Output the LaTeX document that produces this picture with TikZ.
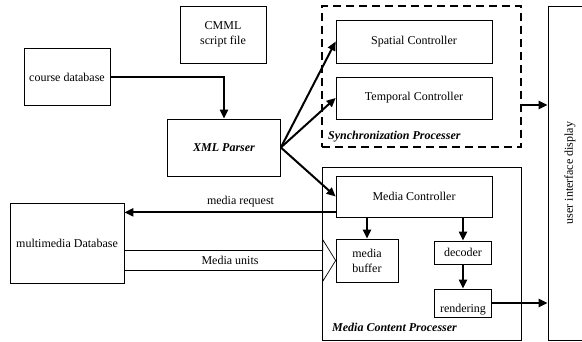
\documentclass[tikz,border=0pt]{standalone}
\usepackage{fontspec}
\setmainfont{Liberation Serif}
\usetikzlibrary{arrows.meta,calc}

\begin{document}
\begin{tikzpicture}[x=1pt,y=-1pt,
    box/.style={rectangle, draw=black, line width=0.7pt, align=center,
                inner sep=0pt, font=\fontsize{12}{15}\selectfont},
    procbox/.style={rectangle, draw=black, line width=0.7pt, inner sep=0pt},
    title/.style={anchor=west, inner sep=0pt, font=\fontsize{12}{15}\selectfont\bfseries\itshape},
    arr/.style={-{Triangle[length=9pt,width=8pt]}, line width=2pt, black},
    hollow/.style={line width=0.7pt, black}
  ]
    \useasboundingbox (0,0) rectangle (582,341);

    % processers
    \node[procbox, dash pattern=on 8pt off 5pt, line width=1.1pt,
          minimum width=199pt, minimum height=141pt] (sync) at (421.5,76.5) {};
    \node[title] (synct) at (328,137) {Synchronization Processer};
    \node[procbox, minimum width=199pt, minimum height=173pt] (mcp) at (421.5,253.5) {};
    \node[title] (mcpt) at (332,327) {Media Content Processer};

    \node[box, minimum width=86pt, minimum height=57pt] (cmml) at (223,34.5) {CMML\\script file};
    \node[box, minimum width=86pt, minimum height=57pt] (course) at (67,77) {course database};
    \node[box, minimum width=113pt, minimum height=57pt, font=\fontsize{12}{15}\selectfont\bfseries\itshape] (xml) at (224,147.5) {XML Parser};
    \node[box, minimum width=114pt, minimum height=80pt] (mmdb) at (67,243) {multimedia Database};

    \node[box, minimum width=156pt, minimum height=43pt] (spatial) at (414,41.5) {Spatial Controller};
    \node[box, minimum width=156pt, minimum height=42pt] (temporal) at (414,98) {Temporal Controller};
    \node[box, minimum width=156pt, minimum height=41pt] (mc) at (414,196.5) {Media Controller};
    \node[box, minimum width=62pt, minimum height=43pt] (buffer) at (367,260.5) {media\\buffer};
    \node[box, minimum width=57pt, minimum height=23pt] (decoder) at (463,252.5) {decoder};
    \node[box, minimum width=57pt, minimum height=28pt] (rendering) at (463,303) {\raisebox{-7pt}[\height][\depth]{rendering}};

    \node[box, minimum width=44pt, minimum height=334pt] (ui) at (570,173) {};
    \node[rotate=90, inner sep=0pt, font=\fontsize{12}{15}\selectfont] (uit) at (ui.center) {user interface display};

    \draw[arr] (course.east) -| (xml.north);
    \draw[arr] (xml.east) -- (spatial.west);
    \draw[arr] (xml.east) -- (temporal.west);
    \draw[arr] (xml.east) -- (mc.west);

    \coordinate (syncout) at ([yshift=-28.5pt]sync.east);
    \draw[arr] (syncout) -- (syncout -| ui.west);

    \draw[arr] (buffer.north |- mc.south) -- (buffer.north);
    \draw[arr] (decoder.north |- mc.south) -- (decoder.north);
    \draw[arr] (decoder.south) -- (rendering.north);
    \draw[arr] (rendering.east) -- (rendering.east -| ui.west);

    \coordinate (req) at ([yshift=5pt]mc.south west);
    \draw[arr] (req) -- (req -| mmdb.east)
      node[pos=0.45, above=1pt, font=\fontsize{12}{15}\selectfont] {media request};

    \coordinate (mu) at (mmdb.east |- buffer.west);
    \draw[hollow] ($(mu)+(0,-10)$) -- ($(buffer.west)+(-13,-10)$) -- ($(buffer.west)+(-13,-21)$)
      -- (buffer.west) -- ($(buffer.west)+(-13,21)$) -- ($(buffer.west)+(-13,10)$) -- ($(mu)+(0,10)$);
    \node[font=\fontsize{12}{15}\selectfont] (mut) at ($(mu)!0.5!(buffer.west)$) {Media units};
\end{tikzpicture}
\end{document}
